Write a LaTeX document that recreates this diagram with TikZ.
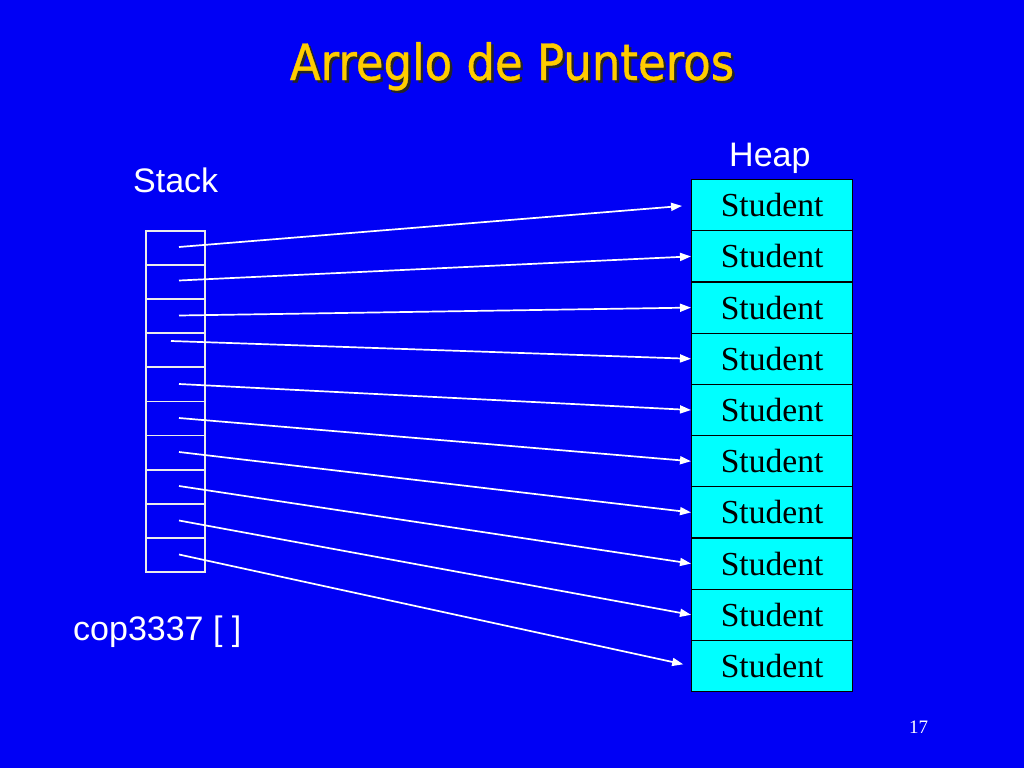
\documentclass[tikz,border=0pt]{standalone}
\usepackage{fontspec}
\setmainfont{Liberation Serif}
\newfontfamily\arialf{Liberation Sans}
\newfontfamily\titlef[FakeBold=0.8]{DejaVu Sans}
\usetikzlibrary{arrows.meta,calc}
\definecolor{bgblue}{RGB}{0,0,245}
\definecolor{titleyellow}{RGB}{255,204,0}
\definecolor{heapcyan}{RGB}{0,255,255}
\begin{document}
\begin{tikzpicture}[x=1pt,y=-1pt,
  heapbox/.style={draw=black,line width=1.2pt,fill=heapcyan,minimum width=161pt,minimum height=51.2pt,inner sep=0pt,anchor=north west,font=\fontsize{33.6}{33.6}\selectfont,text=black},
  stackcell/.style={draw=white!92!black,line width=1.8pt,minimum width=59pt,minimum height=34.1pt,inner sep=0pt,anchor=north west},
  ptr/.style={draw=white,line width=1.7pt,-{Triangle[length=11pt,width=8pt]}},
  label/.style={font=\arialf\fontsize{34}{34}\selectfont,text=white,inner sep=0pt,anchor=base west}]
\useasboundingbox (0,0) rectangle (1024,768);
\fill[bgblue] (0,0) rectangle (1024,768);
% title
\node[anchor=base,inner sep=0pt,text=black!85,font=\titlef\fontsize{50}{50}\selectfont,xscale=0.9] (tshadow) at (514.5,82.5) {Arreglo de Punteros};
\node[anchor=base,inner sep=0pt,text=titleyellow,font=\titlef\fontsize{50}{50}\selectfont,xscale=0.9] (title) at (512,80) {Arreglo de Punteros};
% labels
\node[label] (stacklbl) at (133,192) {Stack};
\node[label] (heaplbl) at (729,166) {Heap};
\node[label] (coplbl) at (73,640) {cop3337 [ ]};
\node[anchor=base west,inner sep=0pt,text=white,font=\fontsize{19}{19}\selectfont] (pagenum) at (909,733) {17};
% stack cells
\foreach \i in {0,...,9} {
  \node[stackcell] (s\i) at (145,{230+\i*34.1}) {};
}
% heap boxes
\foreach \i in {0,...,9} {
  \node[heapbox] (h\i) at (691,{179+\i*51.2}) {Student};
}
% start points
\coordinate (p0) at (179,247);
\coordinate (p1) at (179,280.5);
\coordinate (p2) at (179,315.5);
\coordinate (p3) at (171,341);
\coordinate (p4) at (179,384);
\coordinate (p5) at (179,418);
\coordinate (p6) at (179,452);
\coordinate (p7) at (179,486);
\coordinate (p8) at (179,520.5);
\coordinate (p9) at (179,554.5);
% pointers
\draw[ptr,shorten >=9pt] (p0) -- (h0.west);
\foreach \i in {1,...,8} {
  \draw[ptr] (p\i) -- (h\i.west);
}
\draw[ptr,shorten >=8pt] (p9) -- (h9.west);
\end{tikzpicture}
\end{document}
